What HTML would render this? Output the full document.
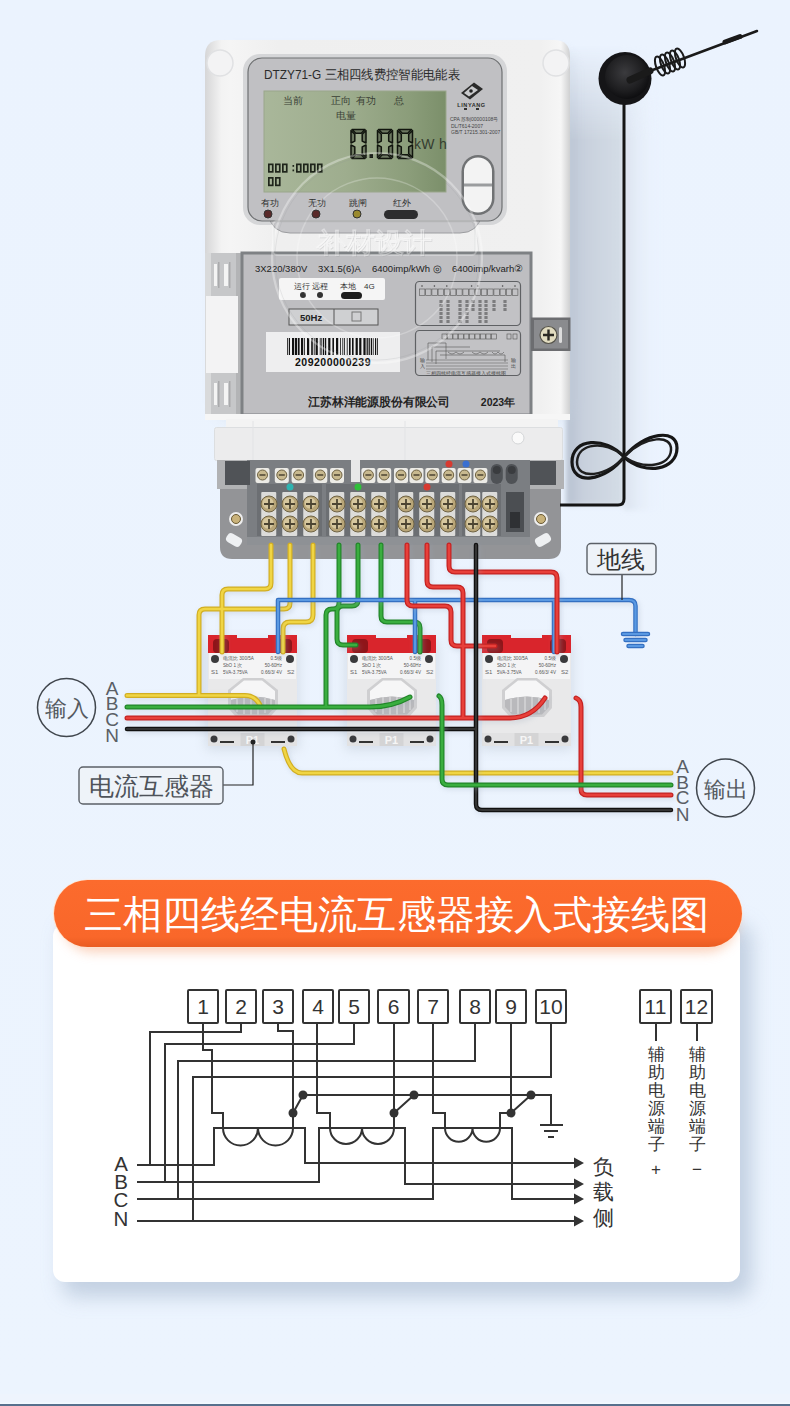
<!DOCTYPE html>
<html><head><meta charset="utf-8">
<style>
html,body{margin:0;padding:0;}
body{width:790px;height:1406px;overflow:hidden;background:#eaf2fc;font-family:"Liberation Sans",sans-serif;position:relative;}
svg{position:absolute;left:0;top:0;}
text{font-family:"Liberation Sans",sans-serif;}
</style></head><body>
<svg width="790" height="1406" viewBox="0 0 790 1406">
<defs>
  <linearGradient id="bg" x1="0" y1="0" x2="0" y2="1">
    <stop offset="0" stop-color="#ebf3fe"/>
    <stop offset="1" stop-color="#ecf4fe"/>
  </linearGradient>
  <radialGradient id="antb" cx="0.45" cy="0.4" r="0.6">
    <stop offset="0" stop-color="#3b3b3e"/>
    <stop offset="0.7" stop-color="#1e1e20"/>
    <stop offset="1" stop-color="#0e0e10"/>
  </radialGradient>
  <linearGradient id="lcd" x1="0" y1="0" x2="1" y2="0">
    <stop offset="0" stop-color="#a9b79a"/>
    <stop offset="0.45" stop-color="#9ead8e"/>
    <stop offset="0.8" stop-color="#8b9d7a"/>
    <stop offset="1" stop-color="#7b8f6a"/>
  </linearGradient>
  <linearGradient id="body" x1="0" y1="0" x2="1" y2="0">
    <stop offset="0" stop-color="#d6d6d7"/>
    <stop offset="0.045" stop-color="#f3f3f3"/>
    <stop offset="0.07" stop-color="#f5f5f5"/>
    <stop offset="0.2" stop-color="#efefef"/>
    <stop offset="0.92" stop-color="#f0f0f0"/>
    <stop offset="0.975" stop-color="#f6f6f6"/>
    <stop offset="1" stop-color="#cfd0d1"/>
  </linearGradient>
  <filter id="sh" x="-20%" y="-20%" width="140%" height="140%">
    <feGaussianBlur stdDeviation="6"/>
  </filter>
<filter id="blur2" x="-30%" y="-10%" width="160%" height="120%"><feGaussianBlur stdDeviation="2.5"/></filter>
<linearGradient id="band2" x1="0" y1="0" x2="1" y2="0"><stop offset="0" stop-color="#dae2ed"/><stop offset="1" stop-color="#ebf3fe" stop-opacity="0"/></linearGradient>
<linearGradient id="bmg" x1="0" x2="0" gradientUnits="userSpaceOnUse" y1="45" y2="140"><stop offset="0" stop-color="#000"/><stop offset="1" stop-color="#fff"/></linearGradient>
<mask id="bandmask" maskUnits="userSpaceOnUse" x="0" y="0" width="790" height="1406"><rect x="0" y="0" width="790" height="1406" fill="url(#bmg)"/></mask>
<filter id="sh10" x="-20%" y="-20%" width="140%" height="140%"><feGaussianBlur stdDeviation="10"/></filter>
<linearGradient id="ban" x1="0" y1="0" x2="0" y2="1"><stop offset="0" stop-color="#fc6b2d"/><stop offset="0.85" stop-color="#f9672a"/><stop offset="1" stop-color="#e95c22"/></linearGradient>
</defs>
<rect x="0" y="0" width="790" height="1406" fill="url(#bg)"/>

<linearGradient id="band" x1="0" y1="0" x2="1" y2="0">
    <stop offset="0" stop-color="#b7c1d0"/>
    <stop offset="0.3" stop-color="#c8d0dd"/>
    <stop offset="1" stop-color="#d4dde6"/>
  </linearGradient>
<g mask="url(#bandmask)"><path d="M566 40H624V505H566Z" fill="url(#band)" filter="url(#blur2)"/>
<path d="M624 40H660V510H624Z" fill="url(#band2)" filter="url(#blur2)"/></g>
<!-- METER -->
<g id="meter">
  <!-- soft shadow -->
  <rect x="214" y="50" width="360" height="372" rx="16" fill="#c8d3e0" opacity="0.3" filter="url(#sh)"/>
  <!-- body -->
  <path d="M205 56Q205 40 221 40H554Q570 40 570 56V418H205Z" fill="url(#body)"/>
  <circle cx="220" cy="63" r="13" fill="#f3f3f4" stroke="#e0e1e3" stroke-width="1.5"/>
  <circle cx="556" cy="63" r="13" fill="#f3f3f4" stroke="#e0e1e3" stroke-width="1.5"/>
  <!-- top display panel -->
  <rect x="243" y="54" width="264" height="171" rx="17" fill="#d5d6d8"/>
  <path d="M268 214H482Q478 233 460 233H290Q272 233 268 214Z" fill="#c6c6c9" stroke="#9c9da0" stroke-width="1"/>
  <rect x="248" y="58" width="254" height="163" rx="14" fill="#c0c0c3" stroke="#6e7072" stroke-width="1.2"/>
  <text x="264" y="79" font-size="12.5" fill="#2b2b2b" textLength="196" lengthAdjust="spacingAndGlyphs">DTZY71-G 三相四线费控智能电能表</text>
  <rect x="264" y="91" width="182" height="101" fill="url(#lcd)" stroke="#9aa68c" stroke-width="1"/>
  <g font-size="9.5" fill="#3a3f35">
    <text x="283" y="104">当前</text><text x="331" y="104">正向</text><text x="356" y="104">有功</text><text x="394" y="104">总</text>
    <text x="336" y="119">电量</text>
  </g>
  <g fill="#6c7860" stroke="#11150e" stroke-width="1.5" stroke-linejoin="round"><path d="M352 129.5H365L361.2 133.3H355.8Z"/><path d="M352 158.5H365L361.2 154.7H355.8Z"/><path d="M351 130.5V143.0L354.8 141.1V134.3Z"/><path d="M351 157.5V145.0L354.8 146.9V153.7Z"/><path d="M366 130.5V143.0L362.2 141.1V134.3Z"/><path d="M366 157.5V145.0L362.2 146.9V153.7Z"/><path d="M378.5 129.5H391.5L387.7 133.3H382.3Z"/><path d="M378.5 158.5H391.5L387.7 154.7H382.3Z"/><path d="M377.5 130.5V143.0L381.3 141.1V134.3Z"/><path d="M377.5 157.5V145.0L381.3 146.9V153.7Z"/><path d="M392.5 130.5V143.0L388.7 141.1V134.3Z"/><path d="M392.5 157.5V145.0L388.7 146.9V153.7Z"/><path d="M398.5 129.5H411.5L407.7 133.3H402.3Z"/><path d="M398.5 158.5H411.5L407.7 154.7H402.3Z"/><path d="M397.5 130.5V143.0L401.3 141.1V134.3Z"/><path d="M397.5 157.5V145.0L401.3 146.9V153.7Z"/><path d="M412.5 130.5V143.0L408.7 141.1V134.3Z"/><path d="M412.5 157.5V145.0L408.7 146.9V153.7Z"/></g><rect x="369.5" y="154" width="3.5" height="4" fill="#161b13"/>
  <text x="414" y="148.5" font-size="14" fill="#353d30" letter-spacing="0.3">kW h</text>
  <g fill="none" stroke="#1f251b" stroke-width="1.7"><rect x="268.85" y="164.35" width="3.8999999999999995" height="7.499999999999999"/><rect x="275.85" y="164.35" width="3.8999999999999995" height="7.499999999999999"/><rect x="282.85" y="164.35" width="3.8999999999999995" height="7.499999999999999"/><rect x="296.85" y="164.35" width="3.8999999999999995" height="7.499999999999999"/><rect x="303.85" y="164.35" width="3.8999999999999995" height="7.499999999999999"/><rect x="310.85" y="164.35" width="3.8999999999999995" height="7.499999999999999"/><rect x="317.85" y="164.35" width="3.8999999999999995" height="7.499999999999999"/><rect x="268.85" y="177.85" width="3.8999999999999995" height="7.499999999999999"/><rect x="275.85" y="177.85" width="3.8999999999999995" height="7.499999999999999"/></g><g fill="#1f251b"><rect x="292.5" y="165" width="1.6" height="1.8"/><rect x="292.5" y="169.5" width="1.6" height="1.8"/></g>
  <!-- logo -->
  <path d="M474 82.5L483 89L470 99.5L461 93Z" fill="#2a2a2a"/><path d="M472 86L478 90L469 96.5L464 93Z" fill="#c9cacc"/><circle cx="471" cy="91" r="1.8" fill="#222"/>
  <text x="471.5" y="106.5" font-size="5.5" font-weight="bold" fill="#2a2a2a" text-anchor="middle" letter-spacing="0.6">LINYANG</text><path d="M464 109H467M476 109H479" stroke="#333" stroke-width="2"/>
  <g font-size="5" fill="#444">
    <text x="450" y="121">CPA 苏制00000108号</text>
    <text x="451" y="128">DL/T614-2007</text>
    <text x="451" y="134">GB/T 17215.301-2007</text>
  </g>
  <!-- LEDs -->
  <g font-size="8.5" fill="#2e2e2e">
    <text x="261" y="206">有功</text><text x="308" y="206">无功</text><text x="349" y="206">跳闸</text><text x="393" y="206">红外</text>
  </g>
  <circle cx="268" cy="214" r="4" fill="#5a2a2a" stroke="#333" stroke-width="1"/>
  <circle cx="316" cy="214" r="4" fill="#5a2a2a" stroke="#333" stroke-width="1"/>
  <circle cx="357" cy="214" r="4" fill="#9a8a30" stroke="#333" stroke-width="1"/>
  <rect x="384" y="210" width="34" height="9" rx="4.5" fill="#2d2d2f"/>
  <!-- button -->
  <rect x="461.5" y="155" width="33" height="60" rx="16.5" fill="#707274"/>
  <rect x="464" y="157.5" width="28" height="55" rx="14" fill="#f3f3f3"/>
  <path d="M464 185H492" stroke="#9a9c9e" stroke-width="3"/>
  <!-- lower (label) section -->
  <rect x="205" y="253" width="37" height="162" fill="#c6c7c9"/><rect x="205" y="253" width="6" height="162" fill="#d9dadb"/><rect x="236" y="253" width="6" height="162" fill="#b3b4b6"/>
  <rect x="206" y="296" width="32" height="77" fill="#f3f3f4"/>
  <g fill="#f4f4f4"><rect x="214" y="264" width="3" height="22"/><rect x="224" y="264" width="4" height="22"/><rect x="214" y="383" width="3" height="22"/><rect x="224" y="383" width="4" height="22"/></g><g fill="#a9aaac"><rect x="218" y="262" width="1.5" height="26"/><rect x="229" y="262" width="1.5" height="26"/><rect x="218" y="381" width="1.5" height="26"/><rect x="229" y="381" width="1.5" height="26"/></g>
  <rect x="242" y="253" width="289" height="162" fill="#bebec1" stroke="#7e8184" stroke-width="3"/>
  <rect x="531" y="317.5" width="39.5" height="33.5" fill="#6c6d70"/><rect x="534" y="320" width="34" height="28.5" fill="#8a8b8e"/>
  <circle cx="548.5" cy="335" r="8.5" fill="#e2dcc0" stroke="#55534a" stroke-width="1.2"/>
  <path d="M543 335H554M548.5 329.5V340.5" stroke="#2a2822" stroke-width="2.4"/><rect x="559" y="327" width="3" height="16" rx="1.5" fill="#dcdcdc"/>
  <g font-size="9.5" fill="#222">
    <text x="255" y="272">3X220/380V</text><text x="318" y="272">3X1.5(6)A</text>
    <text x="372" y="272">6400imp/kWh ◎</text><text x="452" y="272">6400imp/kvarh②</text>
  </g>
  <rect x="279" y="278" width="106" height="22" rx="2" fill="#f5f5f5"/>
  <g font-size="8" fill="#333"><text x="294" y="289">运行 远程</text><text x="340" y="289">本地</text><text x="364" y="289">4G</text></g>
  <circle cx="303" cy="295" r="3" fill="#333"/><circle cx="320" cy="295" r="3" fill="#333"/>
  <rect x="341" y="292" width="21" height="7" rx="3.5" fill="#1e1e1e"/>
  <rect x="289" y="309" width="89" height="16" fill="#cfd0d2" stroke="#555" stroke-width="1"/>
  <path d="M334 309V325" stroke="#555" stroke-width="1"/>
  <text x="300" y="321" font-size="9.5" font-weight="bold" fill="#222">50Hz</text>
  <rect x="352" y="312" width="9" height="9" fill="none" stroke="#777" stroke-width="1"/>
  <rect x="266" y="332" width="134" height="40" fill="#eeeeef"/>
  <g id="barcode" fill="#111"><rect x="287.0" y="338" width="0.8" height="17"/><rect x="288.8" y="338" width="1.2" height="17"/><rect x="292.0" y="338" width="2.2" height="17"/><rect x="295.0" y="338" width="2.2" height="17"/><rect x="298.0" y="338" width="1.6" height="17"/><rect x="301.0" y="338" width="2.2" height="17"/><rect x="304.2" y="338" width="0.8" height="17"/><rect x="307.0" y="338" width="2.2" height="17"/><rect x="311.2" y="338" width="1.6" height="17"/><rect x="313.8" y="338" width="0.8" height="17"/><rect x="315.6" y="338" width="2.2" height="17"/><rect x="319.8" y="338" width="0.8" height="17"/><rect x="321.4" y="338" width="0.8" height="17"/><rect x="323.0" y="338" width="1.2" height="17"/><rect x="325.0" y="338" width="1.2" height="17"/><rect x="328.2" y="338" width="2.2" height="17"/><rect x="332.4" y="338" width="1.6" height="17"/><rect x="336.0" y="338" width="2.2" height="17"/><rect x="340.2" y="338" width="0.8" height="17"/><rect x="342.4" y="338" width="0.8" height="17"/><rect x="344.0" y="338" width="0.8" height="17"/><rect x="346.8" y="338" width="0.8" height="17"/><rect x="349.0" y="338" width="1.6" height="17"/><rect x="352.0" y="338" width="1.6" height="17"/><rect x="355.6" y="338" width="2.2" height="17"/><rect x="359.2" y="338" width="2.2" height="17"/><rect x="363.4" y="338" width="2.2" height="17"/><rect x="366.6" y="338" width="1.2" height="17"/><rect x="368.6" y="338" width="1.2" height="17"/><rect x="370.8" y="338" width="1.2" height="17"/><rect x="372.8" y="338" width="0.8" height="17"/><rect x="375.0" y="338" width="1.2" height="17"/><rect x="377.0" y="338" width="0.8" height="17"/></g>
  <text x="333" y="366" font-size="10.5" font-weight="bold" fill="#111" text-anchor="middle" letter-spacing="0.5">209200000239</text>
  <rect x="415.5" y="281.5" width="105" height="44" rx="4" fill="#c2c2c5" stroke="#5f6164" stroke-width="1.2"/>
  <rect x="415.5" y="330.5" width="105" height="45" rx="4" fill="#c2c2c5" stroke="#5f6164" stroke-width="1.2"/>
  <g fill="none" stroke="#555" stroke-width="0.6"><rect x="419.5" y="289" width="5.4" height="6.5"/><rect x="425.7" y="289" width="5.4" height="6.5"/><rect x="431.9" y="289" width="5.4" height="6.5"/><rect x="438.1" y="289" width="5.4" height="6.5"/><rect x="444.3" y="289" width="5.4" height="6.5"/><rect x="450.5" y="289" width="5.4" height="6.5"/><rect x="456.7" y="289" width="5.4" height="6.5"/><rect x="462.9" y="289" width="5.4" height="6.5"/><rect x="469.1" y="289" width="5.4" height="6.5"/><rect x="475.3" y="289" width="5.4" height="6.5"/><rect x="481.5" y="289" width="5.4" height="6.5"/><rect x="487.7" y="289" width="5.4" height="6.5"/><rect x="493.9" y="289" width="5.4" height="6.5"/><rect x="500.1" y="289" width="5.4" height="6.5"/><rect x="506.3" y="289" width="5.4" height="6.5"/><rect x="512.5" y="289" width="5.4" height="6.5"/></g><g fill="#444"><circle cx="422.0" cy="286" r="0.8"/><circle cx="434.4" cy="286" r="0.8"/><circle cx="446.8" cy="286" r="0.8"/><circle cx="471.6" cy="286" r="0.8"/><circle cx="477.8" cy="286" r="0.8"/><circle cx="502.6" cy="286" r="0.8"/><circle cx="515.0" cy="286" r="0.8"/><rect x="439.4" y="300" width="3.2" height="3" opacity="0.55"/><rect x="439.4" y="304" width="3.2" height="3" opacity="0.55"/><rect x="439.4" y="308" width="3.2" height="3" opacity="0.55"/><rect x="439.4" y="312" width="3.2" height="3" opacity="0.55"/><rect x="439.4" y="316" width="3.2" height="3" opacity="0.55"/><rect x="439.4" y="320" width="3.2" height="3" opacity="0.55"/><rect x="446.4" y="300" width="3.2" height="3" opacity="0.55"/><rect x="446.4" y="304" width="3.2" height="3" opacity="0.55"/><rect x="446.4" y="308" width="3.2" height="3" opacity="0.55"/><rect x="446.4" y="312" width="3.2" height="3" opacity="0.55"/><rect x="446.4" y="316" width="3.2" height="3" opacity="0.55"/><rect x="446.4" y="320" width="3.2" height="3" opacity="0.55"/><rect x="458.4" y="300" width="3.2" height="3" opacity="0.55"/><rect x="458.4" y="304" width="3.2" height="3" opacity="0.55"/><rect x="458.4" y="308" width="3.2" height="3" opacity="0.55"/><rect x="458.4" y="312" width="3.2" height="3" opacity="0.55"/><rect x="458.4" y="316" width="3.2" height="3" opacity="0.55"/><rect x="458.4" y="320" width="3.2" height="3" opacity="0.55"/><rect x="465.4" y="300" width="3.2" height="3" opacity="0.55"/><rect x="465.4" y="304" width="3.2" height="3" opacity="0.55"/><rect x="465.4" y="308" width="3.2" height="3" opacity="0.55"/><rect x="465.4" y="312" width="3.2" height="3" opacity="0.55"/><rect x="465.4" y="316" width="3.2" height="3" opacity="0.55"/><rect x="465.4" y="320" width="3.2" height="3" opacity="0.55"/><rect x="471.4" y="300" width="3.2" height="3" opacity="0.55"/><rect x="471.4" y="304" width="3.2" height="3" opacity="0.55"/><rect x="471.4" y="308" width="3.2" height="3" opacity="0.55"/><rect x="478.4" y="300" width="3.2" height="3" opacity="0.55"/><rect x="478.4" y="304" width="3.2" height="3" opacity="0.55"/><rect x="478.4" y="308" width="3.2" height="3" opacity="0.55"/><rect x="478.4" y="312" width="3.2" height="3" opacity="0.55"/><rect x="478.4" y="316" width="3.2" height="3" opacity="0.55"/><rect x="478.4" y="320" width="3.2" height="3" opacity="0.55"/><rect x="484.4" y="300" width="3.2" height="3" opacity="0.55"/><rect x="484.4" y="304" width="3.2" height="3" opacity="0.55"/><rect x="484.4" y="308" width="3.2" height="3" opacity="0.55"/><rect x="484.4" y="312" width="3.2" height="3" opacity="0.55"/><rect x="484.4" y="316" width="3.2" height="3" opacity="0.55"/><rect x="484.4" y="320" width="3.2" height="3" opacity="0.55"/><rect x="492.4" y="300" width="3.2" height="3" opacity="0.55"/><rect x="492.4" y="304" width="3.2" height="3" opacity="0.55"/><rect x="492.4" y="308" width="3.2" height="3" opacity="0.55"/><rect x="503.4" y="300" width="3.2" height="3" opacity="0.55"/><rect x="503.4" y="304" width="3.2" height="3" opacity="0.55"/><rect x="503.4" y="308" width="3.2" height="3" opacity="0.55"/></g><g fill="none" stroke="#555" stroke-width="0.6"><rect x="442.0" y="334" width="4.8" height="5"/><rect x="447.5" y="334" width="4.8" height="5"/><rect x="453.0" y="334" width="4.8" height="5"/><rect x="458.5" y="334" width="4.8" height="5"/><rect x="464.0" y="334" width="4.8" height="5"/><rect x="469.5" y="334" width="4.8" height="5"/><rect x="475.0" y="334" width="4.8" height="5"/><rect x="480.5" y="334" width="4.8" height="5"/><rect x="486.0" y="334" width="4.8" height="5"/><rect x="491.5" y="334" width="4.8" height="5"/><rect x="507" y="334" width="4" height="5"/><rect x="513" y="334" width="4" height="5"/><path d="M428 343H446V359M432 347H470M436 351H500M428 343V360M432 347V362M436 351V364M440 355H505V362"/><path d="M448 352q4 4 8 0q4 4 8 0M472 352q4 4 8 0q4 4 8 0M492 352q3 4 6 0q3 4 6 0"/><path d="M426 360H508M426 363H508M426 366H508M426 369H508" stroke-width="0.5"/></g><text x="466" y="374.5" font-size="4.6" fill="#444" text-anchor="middle">三相四线经电流互感器接入式接线图</text><text x="420" y="362" font-size="4.5" fill="#333">输</text><text x="420" y="368" font-size="4.5" fill="#333">入</text><text x="511" y="362" font-size="4.5" fill="#333">输</text><text x="511" y="368" font-size="4.5" fill="#333">出</text>
  <text x="308" y="406" font-size="11.5" font-weight="bold" fill="#222" textLength="142" lengthAdjust="spacingAndGlyphs">江苏林洋能源股份有限公司</text>
  <text x="498" y="406" font-size="10.5" font-weight="bold" fill="#222" text-anchor="middle">2023年</text>
  <!-- terminal cover -->
  <rect x="205" y="414" width="365" height="6" fill="#f6f6f6"/><rect x="226" y="419" width="332" height="10" fill="#f3f3f3"/><rect x="214.5" y="427.5" width="348" height="33" rx="2" fill="#ececed" stroke="#dcdee0" stroke-width="1"/>
  <path d="M253 421V461M405 421V461" stroke="#e2e3e5" stroke-width="1"/>
  <circle cx="518" cy="438" r="6" fill="#fafafa" stroke="#d4d6d8" stroke-width="1"/>
  <!-- terminal block -->
  <path d="M220 460H561V547Q561 559 549 559H232Q220 559 220 547Z" fill="#939497"/><rect x="217" y="460" width="347" height="29" fill="#b1b2b4"/>
  <rect x="247" y="460" width="283" height="85" fill="#7b7e82"/>
  <rect x="225" y="461" width="25" height="24" fill="#505357"/>
  <rect x="530" y="461" width="26" height="24" fill="#505357"/>
  <circle cx="236" cy="519" r="7" fill="#eeeeee"/><circle cx="236" cy="519" r="4.5" fill="#c9b27a" stroke="#6a5a35" stroke-width="1"/>
  <circle cx="541" cy="519" r="7" fill="#eeeeee"/><circle cx="541" cy="519" r="4.5" fill="#c9b27a" stroke="#6a5a35" stroke-width="1"/>
  <rect x="226" y="535" width="16" height="10" rx="4" transform="rotate(30 234 540)" fill="#eef0f2"/>
  <rect x="535" y="535" width="16" height="10" rx="4" transform="rotate(-30 543 540)" fill="#eef0f2"/>
  <rect x="247" y="537" width="283" height="8" fill="#8e9195"/>
  <rect x="351" y="460" width="9" height="22" fill="#e8e8e8"/>
  <g id="screws"><rect x="257" y="484" width="65" height="52" fill="#6c6f73"/><rect x="326" y="484" width="64" height="52" fill="#6c6f73"/><rect x="395" y="484" width="64" height="52" fill="#6c6f73"/><rect x="462" y="484" width="39" height="52" fill="#6c6f73"/><rect x="261.25" y="492" width="15" height="44" rx="1" fill="#dcdcda"/><circle cx="269" cy="504" r="8" fill="#b8a577" stroke="#6f6344" stroke-width="1"/><circle cx="268" cy="503" r="5.5" fill="#d6c79e"/><path d="M264 504H274M269 499V509" stroke="#4d4532" stroke-width="1.8"/><circle cx="269" cy="524" r="8" fill="#b8a577" stroke="#6f6344" stroke-width="1"/><circle cx="268" cy="523" r="5.5" fill="#d6c79e"/><path d="M264 524H274M269 519V529" stroke="#4d4532" stroke-width="1.8"/><rect x="282.25" y="492" width="15" height="44" rx="1" fill="#dcdcda"/><circle cx="290" cy="504" r="8" fill="#b8a577" stroke="#6f6344" stroke-width="1"/><circle cx="289" cy="503" r="5.5" fill="#d6c79e"/><path d="M285 504H295M290 499V509" stroke="#4d4532" stroke-width="1.8"/><circle cx="290" cy="524" r="8" fill="#b8a577" stroke="#6f6344" stroke-width="1"/><circle cx="289" cy="523" r="5.5" fill="#d6c79e"/><path d="M285 524H295M290 519V529" stroke="#4d4532" stroke-width="1.8"/><rect x="303.25" y="492" width="15" height="44" rx="1" fill="#dcdcda"/><circle cx="311" cy="504" r="8" fill="#b8a577" stroke="#6f6344" stroke-width="1"/><circle cx="310" cy="503" r="5.5" fill="#d6c79e"/><path d="M306 504H316M311 499V509" stroke="#4d4532" stroke-width="1.8"/><circle cx="311" cy="524" r="8" fill="#b8a577" stroke="#6f6344" stroke-width="1"/><circle cx="310" cy="523" r="5.5" fill="#d6c79e"/><path d="M306 524H316M311 519V529" stroke="#4d4532" stroke-width="1.8"/><rect x="329.25" y="492" width="15" height="44" rx="1" fill="#dcdcda"/><circle cx="337" cy="504" r="8" fill="#b8a577" stroke="#6f6344" stroke-width="1"/><circle cx="336" cy="503" r="5.5" fill="#d6c79e"/><path d="M332 504H342M337 499V509" stroke="#4d4532" stroke-width="1.8"/><circle cx="337" cy="524" r="8" fill="#b8a577" stroke="#6f6344" stroke-width="1"/><circle cx="336" cy="523" r="5.5" fill="#d6c79e"/><path d="M332 524H342M337 519V529" stroke="#4d4532" stroke-width="1.8"/><rect x="350.25" y="492" width="15" height="44" rx="1" fill="#dcdcda"/><circle cx="358" cy="504" r="8" fill="#b8a577" stroke="#6f6344" stroke-width="1"/><circle cx="357" cy="503" r="5.5" fill="#d6c79e"/><path d="M353 504H363M358 499V509" stroke="#4d4532" stroke-width="1.8"/><circle cx="358" cy="524" r="8" fill="#b8a577" stroke="#6f6344" stroke-width="1"/><circle cx="357" cy="523" r="5.5" fill="#d6c79e"/><path d="M353 524H363M358 519V529" stroke="#4d4532" stroke-width="1.8"/><rect x="371.25" y="492" width="15" height="44" rx="1" fill="#dcdcda"/><circle cx="379" cy="504" r="8" fill="#b8a577" stroke="#6f6344" stroke-width="1"/><circle cx="378" cy="503" r="5.5" fill="#d6c79e"/><path d="M374 504H384M379 499V509" stroke="#4d4532" stroke-width="1.8"/><circle cx="379" cy="524" r="8" fill="#b8a577" stroke="#6f6344" stroke-width="1"/><circle cx="378" cy="523" r="5.5" fill="#d6c79e"/><path d="M374 524H384M379 519V529" stroke="#4d4532" stroke-width="1.8"/><rect x="398.25" y="492" width="15" height="44" rx="1" fill="#dcdcda"/><circle cx="406" cy="504" r="8" fill="#b8a577" stroke="#6f6344" stroke-width="1"/><circle cx="405" cy="503" r="5.5" fill="#d6c79e"/><path d="M401 504H411M406 499V509" stroke="#4d4532" stroke-width="1.8"/><circle cx="406" cy="524" r="8" fill="#b8a577" stroke="#6f6344" stroke-width="1"/><circle cx="405" cy="523" r="5.5" fill="#d6c79e"/><path d="M401 524H411M406 519V529" stroke="#4d4532" stroke-width="1.8"/><rect x="419.25" y="492" width="15" height="44" rx="1" fill="#dcdcda"/><circle cx="427" cy="504" r="8" fill="#b8a577" stroke="#6f6344" stroke-width="1"/><circle cx="426" cy="503" r="5.5" fill="#d6c79e"/><path d="M422 504H432M427 499V509" stroke="#4d4532" stroke-width="1.8"/><circle cx="427" cy="524" r="8" fill="#b8a577" stroke="#6f6344" stroke-width="1"/><circle cx="426" cy="523" r="5.5" fill="#d6c79e"/><path d="M422 524H432M427 519V529" stroke="#4d4532" stroke-width="1.8"/><rect x="440.25" y="492" width="15" height="44" rx="1" fill="#dcdcda"/><circle cx="448" cy="504" r="8" fill="#b8a577" stroke="#6f6344" stroke-width="1"/><circle cx="447" cy="503" r="5.5" fill="#d6c79e"/><path d="M443 504H453M448 499V509" stroke="#4d4532" stroke-width="1.8"/><circle cx="448" cy="524" r="8" fill="#b8a577" stroke="#6f6344" stroke-width="1"/><circle cx="447" cy="523" r="5.5" fill="#d6c79e"/><path d="M443 524H453M448 519V529" stroke="#4d4532" stroke-width="1.8"/><rect x="465.25" y="492" width="15" height="44" rx="1" fill="#dcdcda"/><circle cx="473" cy="504" r="8" fill="#b8a577" stroke="#6f6344" stroke-width="1"/><circle cx="472" cy="503" r="5.5" fill="#d6c79e"/><path d="M468 504H478M473 499V509" stroke="#4d4532" stroke-width="1.8"/><circle cx="473" cy="524" r="8" fill="#b8a577" stroke="#6f6344" stroke-width="1"/><circle cx="472" cy="523" r="5.5" fill="#d6c79e"/><path d="M468 524H478M473 519V529" stroke="#4d4532" stroke-width="1.8"/><rect x="482.25" y="492" width="15" height="44" rx="1" fill="#dcdcda"/><circle cx="490" cy="504" r="8" fill="#b8a577" stroke="#6f6344" stroke-width="1"/><circle cx="489" cy="503" r="5.5" fill="#d6c79e"/><path d="M485 504H495M490 499V509" stroke="#4d4532" stroke-width="1.8"/><circle cx="490" cy="524" r="8" fill="#b8a577" stroke="#6f6344" stroke-width="1"/><circle cx="489" cy="523" r="5.5" fill="#d6c79e"/><path d="M485 524H495M490 519V529" stroke="#4d4532" stroke-width="1.8"/><rect x="255.5" y="468" width="14" height="15" rx="2" fill="#ecebe6"/><circle cx="262.5" cy="475" r="5" fill="#c8b98f" stroke="#6f6344" stroke-width="1"/><path d="M259.5 475H265.5" stroke="#4d4532" stroke-width="1.5"/><rect x="274.8" y="468" width="14" height="15" rx="2" fill="#ecebe6"/><circle cx="281.8" cy="475" r="5" fill="#c8b98f" stroke="#6f6344" stroke-width="1"/><path d="M278.8 475H284.8" stroke="#4d4532" stroke-width="1.5"/><rect x="291.6" y="468" width="14" height="15" rx="2" fill="#ecebe6"/><circle cx="298.6" cy="475" r="5" fill="#c8b98f" stroke="#6f6344" stroke-width="1"/><path d="M295.6 475H301.6" stroke="#4d4532" stroke-width="1.5"/><rect x="313.3" y="468" width="14" height="15" rx="2" fill="#ecebe6"/><circle cx="320.3" cy="475" r="5" fill="#c8b98f" stroke="#6f6344" stroke-width="1"/><path d="M317.3 475H323.3" stroke="#4d4532" stroke-width="1.5"/><rect x="330" y="468" width="14" height="15" rx="2" fill="#ecebe6"/><circle cx="337" cy="475" r="5" fill="#c8b98f" stroke="#6f6344" stroke-width="1"/><path d="M334 475H340" stroke="#4d4532" stroke-width="1.5"/><rect x="361.4" y="468" width="14" height="15" rx="2" fill="#ecebe6"/><circle cx="368.4" cy="475" r="5" fill="#c8b98f" stroke="#6f6344" stroke-width="1"/><path d="M365.4 475H371.4" stroke="#4d4532" stroke-width="1.5"/><rect x="377.2" y="468" width="14" height="15" rx="2" fill="#ecebe6"/><circle cx="384.2" cy="475" r="5" fill="#c8b98f" stroke="#6f6344" stroke-width="1"/><path d="M381.2 475H387.2" stroke="#4d4532" stroke-width="1.5"/><rect x="394" y="468" width="14" height="15" rx="2" fill="#ecebe6"/><circle cx="401" cy="475" r="5" fill="#c8b98f" stroke="#6f6344" stroke-width="1"/><path d="M398 475H404" stroke="#4d4532" stroke-width="1.5"/><rect x="409.5" y="468" width="14" height="15" rx="2" fill="#ecebe6"/><circle cx="416.5" cy="475" r="5" fill="#c8b98f" stroke="#6f6344" stroke-width="1"/><path d="M413.5 475H419.5" stroke="#4d4532" stroke-width="1.5"/><rect x="425.3" y="468" width="14" height="15" rx="2" fill="#ecebe6"/><circle cx="432.3" cy="475" r="5" fill="#c8b98f" stroke="#6f6344" stroke-width="1"/><path d="M429.3 475H435.3" stroke="#4d4532" stroke-width="1.5"/><rect x="441.7" y="468" width="14" height="15" rx="2" fill="#ecebe6"/><circle cx="448.7" cy="475" r="5" fill="#c8b98f" stroke="#6f6344" stroke-width="1"/><path d="M445.7 475H451.7" stroke="#4d4532" stroke-width="1.5"/><rect x="457.5" y="468" width="14" height="15" rx="2" fill="#ecebe6"/><circle cx="464.5" cy="475" r="5" fill="#c8b98f" stroke="#6f6344" stroke-width="1"/><path d="M461.5 475H467.5" stroke="#4d4532" stroke-width="1.5"/><rect x="473.4" y="468" width="14" height="15" rx="2" fill="#ecebe6"/><circle cx="480.4" cy="475" r="5" fill="#c8b98f" stroke="#6f6344" stroke-width="1"/><path d="M477.4 475H483.4" stroke="#4d4532" stroke-width="1.5"/><rect x="490.8" y="464" width="12" height="20" rx="6" fill="#4f5256"/><circle cx="496.8" cy="470" r="4" fill="#3a3c3f"/><rect x="505.7" y="464" width="12" height="20" rx="6" fill="#4f5256"/><circle cx="511.7" cy="470" r="4" fill="#3a3c3f"/><rect x="506" y="492" width="18" height="40" fill="#4b4e52"/><rect x="510" y="512" width="10" height="16" fill="#2f3134"/><circle cx="290" cy="487" r="3.5" fill="#2fb3b0"/><circle cx="358" cy="487" r="3.5" fill="#2fbf3a"/><circle cx="427" cy="487" r="3.5" fill="#d83a30"/><circle cx="449" cy="464" r="3.5" fill="#d83a30"/><circle cx="466" cy="464" r="3.5" fill="#3a6fd0"/></g>
</g>

<g id="stamp" fill="none" opacity="0.55">
  <circle cx="377" cy="258" r="105" stroke="#ffffff" stroke-width="2.2" opacity="0.6"/>
  <circle cx="377" cy="258" r="102" stroke="#8a8d90" stroke-width="0.8" opacity="0.35"/>
  <circle cx="377" cy="258" r="80" stroke="#ffffff" stroke-width="1.5" opacity="0.45"/>
  <rect x="273" y="221" width="203" height="34" rx="4" stroke="#ffffff" stroke-width="2" opacity="0.55"/>
  <text x="317" y="252" font-size="27" textLength="115" lengthAdjust="spacingAndGlyphs" stroke="#8f9194" stroke-width="1" opacity="0.45" transform="translate(1 1)">补材设计</text>
  <text x="317" y="252" font-size="27" textLength="115" lengthAdjust="spacingAndGlyphs" stroke="#ffffff" stroke-width="1.4" opacity="0.8">补材设计</text>
  <rect x="274" y="222" width="201" height="32" rx="4" stroke="#8a8d90" stroke-width="0.8" opacity="0.3"/>
</g>
<!-- ANTENNA -->
<g id="antenna">
  <path d="M624 100V499Q624 505 618 505H560" fill="none" stroke="#151515" stroke-width="3"/>
  <path d="M624 457C605 436 572 438 572 462C572 486 605 482 624 457C645 432 677 428 677 448C677 470 645 476 624 457Z" fill="none" stroke="#161616" stroke-width="3.2"/>
  <path d="M622 455C606 441 578 442 577 462C577 480 606 478 626 455C646 436 672 434 671 450C670 466 645 470 626 458" fill="none" stroke="#1e1e1e" stroke-width="2.5"/>
  <circle cx="625" cy="78.5" r="26.5" fill="#151517"/><circle cx="627" cy="77" r="22" fill="url(#antb)"/>
  <path d="M630 80L650 71" stroke="#1a1a1a" stroke-width="7" stroke-linecap="round"/>
  <path d="M650 71L757 31" stroke="#1a1a1a" stroke-width="2.5" stroke-linecap="round"/>
  <path d="M725 42L740 36.5" stroke="#1a1a1a" stroke-width="5" stroke-linecap="round"/>
  <g fill="none" stroke="#1a1a1a" stroke-width="2">
    <ellipse cx="660" cy="66" rx="4" ry="10" transform="rotate(-20 660 66)"/>
    <ellipse cx="665" cy="64" rx="4" ry="10" transform="rotate(-20 665 64)"/>
    <ellipse cx="670" cy="62" rx="4" ry="10" transform="rotate(-20 670 62)"/>
    <ellipse cx="675" cy="60" rx="4" ry="10" transform="rotate(-20 675 60)"/>
    <ellipse cx="680" cy="58" rx="4" ry="10" transform="rotate(-20 680 58)"/>
  </g>
</g>

<!-- WIRES -->
<g id="cts"><rect x="206" y="640" width="93" height="110" rx="3" fill="#b9c3cf" opacity="0.45" filter="url(#sh)"/><path d="M208 635H237V638H268V635H297V653H208Z" fill="#d9252c"/><rect x="213" y="639" width="16" height="14" rx="4" fill="#8f1519"/><rect x="276" y="639" width="16" height="14" rx="4" fill="#8f1519"/><rect x="208" y="653" width="89" height="93" fill="#e9e9ea"/><rect x="209" y="653" width="87" height="26" fill="#f4f4f5"/><circle cx="215" cy="659" r="4" fill="#3a3a3c"/><circle cx="290" cy="659" r="4" fill="#3a3a3c"/><g font-size="4.6" fill="#555"><text x="223" y="660">电流比 300/5A</text><text x="223" y="667">SbO 1 次</text><text x="223" y="674">5VA-3.75VA</text><text x="282" y="660" text-anchor="end">0.5级</text><text x="282" y="667" text-anchor="end">50-60Hz</text><text x="282" y="674" text-anchor="end">0.66/3/ 4V</text></g><g font-size="6" fill="#666"><text x="211" y="674">S1</text><text x="287" y="674">S2</text></g><path d="M243 678H263L278 690V708L270 717H236L228 708V690Z" fill="#cfcfd1"/><path d="M244 680.5H262L275 691V700Q253 693 231 700V691Z" fill="#f6f6f7"/><path d="M231 700Q253 693 275 700V707L268 714.5H238L231 707Z" fill="#b9b9bc"/><path d="M237 699V712M244 697V714M251 696.5V714.5M258 697V714.5M265 698V713M271 699V710" stroke="#dcdcde" stroke-width="1.2"/><rect x="208" y="733" width="89" height="13" fill="#e2e2e3"/><rect x="240.5" y="733" width="24" height="13" fill="#d4d4d5"/><text x="252.5" y="744" font-size="11" font-weight="bold" fill="#f6f6f6" text-anchor="middle">P1</text><circle cx="214" cy="739" r="3.5" fill="#3a3a3c"/><circle cx="291" cy="739" r="3.5" fill="#3a3a3c"/><path d="M220 742H234M271 742H285" stroke="#333" stroke-width="2"/><rect x="345" y="640" width="93" height="110" rx="3" fill="#b9c3cf" opacity="0.45" filter="url(#sh)"/><path d="M347 635H376V638H407V635H436V653H347Z" fill="#d9252c"/><rect x="352" y="639" width="16" height="14" rx="4" fill="#8f1519"/><rect x="415" y="639" width="16" height="14" rx="4" fill="#8f1519"/><rect x="347" y="653" width="89" height="93" fill="#e9e9ea"/><rect x="348" y="653" width="87" height="26" fill="#f4f4f5"/><circle cx="354" cy="659" r="4" fill="#3a3a3c"/><circle cx="429" cy="659" r="4" fill="#3a3a3c"/><g font-size="4.6" fill="#555"><text x="362" y="660">电流比 300/5A</text><text x="362" y="667">SbO 1 次</text><text x="362" y="674">5VA-3.75VA</text><text x="421" y="660" text-anchor="end">0.5级</text><text x="421" y="667" text-anchor="end">50-60Hz</text><text x="421" y="674" text-anchor="end">0.66/3/ 4V</text></g><g font-size="6" fill="#666"><text x="350" y="674">S1</text><text x="426" y="674">S2</text></g><path d="M382 678H402L417 690V708L409 717H375L367 708V690Z" fill="#cfcfd1"/><path d="M383 680.5H401L414 691V700Q392 693 370 700V691Z" fill="#f6f6f7"/><path d="M370 700Q392 693 414 700V707L407 714.5H377L370 707Z" fill="#b9b9bc"/><path d="M376 699V712M383 697V714M390 696.5V714.5M397 697V714.5M404 698V713M410 699V710" stroke="#dcdcde" stroke-width="1.2"/><rect x="347" y="733" width="89" height="13" fill="#e2e2e3"/><rect x="379.5" y="733" width="24" height="13" fill="#d4d4d5"/><text x="391.5" y="744" font-size="11" font-weight="bold" fill="#f6f6f6" text-anchor="middle">P1</text><circle cx="353" cy="739" r="3.5" fill="#3a3a3c"/><circle cx="430" cy="739" r="3.5" fill="#3a3a3c"/><path d="M359 742H373M410 742H424" stroke="#333" stroke-width="2"/><rect x="480" y="640" width="93" height="110" rx="3" fill="#b9c3cf" opacity="0.45" filter="url(#sh)"/><path d="M482 635H511V638H542V635H571V653H482Z" fill="#d9252c"/><rect x="487" y="639" width="16" height="14" rx="4" fill="#8f1519"/><rect x="550" y="639" width="16" height="14" rx="4" fill="#8f1519"/><rect x="482" y="653" width="89" height="93" fill="#e9e9ea"/><rect x="483" y="653" width="87" height="26" fill="#f4f4f5"/><circle cx="489" cy="659" r="4" fill="#3a3a3c"/><circle cx="564" cy="659" r="4" fill="#3a3a3c"/><g font-size="4.6" fill="#555"><text x="497" y="660">电流比 300/5A</text><text x="497" y="667">SbO 1 次</text><text x="497" y="674">5VA-3.75VA</text><text x="556" y="660" text-anchor="end">0.5级</text><text x="556" y="667" text-anchor="end">50-60Hz</text><text x="556" y="674" text-anchor="end">0.66/3/ 4V</text></g><g font-size="6" fill="#666"><text x="485" y="674">S1</text><text x="561" y="674">S2</text></g><path d="M517 678H537L552 690V708L544 717H510L502 708V690Z" fill="#cfcfd1"/><path d="M518 680.5H536L549 691V700Q527 693 505 700V691Z" fill="#f6f6f7"/><path d="M505 700Q527 693 549 700V707L542 714.5H512L505 707Z" fill="#b9b9bc"/><path d="M511 699V712M518 697V714M525 696.5V714.5M532 697V714.5M539 698V713M545 699V710" stroke="#dcdcde" stroke-width="1.2"/><rect x="482" y="733" width="89" height="13" fill="#e2e2e3"/><rect x="514.5" y="733" width="24" height="13" fill="#d4d4d5"/><text x="526.5" y="744" font-size="11" font-weight="bold" fill="#f6f6f6" text-anchor="middle">P1</text><circle cx="488" cy="739" r="3.5" fill="#3a3a3c"/><circle cx="565" cy="739" r="3.5" fill="#3a3a3c"/><path d="M494 742H508M545 742H559" stroke="#333" stroke-width="2"/></g>
<g id="wires" fill="none" stroke-linecap="round" stroke-linejoin="round">
<path d="M271 545V583Q271 589 265 589H228Q222 589 222 595V652 M290 545V603Q290 609 284 609H205Q199 609 199 615V695 M313 545V615Q313 622 306 622H290Q283 622 283 629V652 M127 695.5H245Q255 695.5 260 705 M284 749Q290 773 302 773H671" stroke="#9aa6b8" stroke-width="6" opacity="0.25" transform="translate(1.5 2)" filter="url(#blur2)"/><path d="M271 545V583Q271 589 265 589H228Q222 589 222 595V652 M290 545V603Q290 609 284 609H205Q199 609 199 615V695 M313 545V615Q313 622 306 622H290Q283 622 283 629V652 M127 695.5H245Q255 695.5 260 705 M284 749Q290 773 302 773H671" stroke="#d2ae22" stroke-width="5"/><path d="M271 545V583Q271 589 265 589H228Q222 589 222 595V652 M290 545V603Q290 609 284 609H205Q199 609 199 615V695 M313 545V615Q313 622 306 622H290Q283 622 283 629V652 M127 695.5H245Q255 695.5 260 705 M284 749Q290 773 302 773H671" stroke="#f0d544" stroke-width="2.6"/>
<path d="M339 545V603Q339 609 333 609H332Q326 609 326 615V707 M358 545V600Q358 606 352 606H343Q337 606 337 612V639Q337 645 343 645H356 M381 545V616Q381 622 387 622H414Q420 622 420 628V652 M127 707H370Q392 707 410 697" stroke="#9aa6b8" stroke-width="6" opacity="0.25" transform="translate(1.5 2)" filter="url(#blur2)"/><path d="M339 545V603Q339 609 333 609H332Q326 609 326 615V707 M358 545V600Q358 606 352 606H343Q337 606 337 612V639Q337 645 343 645H356 M381 545V616Q381 622 387 622H414Q420 622 420 628V652 M127 707H370Q392 707 410 697" stroke="#22862a" stroke-width="5"/><path d="M339 545V603Q339 609 333 609H332Q326 609 326 615V707 M358 545V600Q358 606 352 606H343Q337 606 337 612V639Q337 645 343 645H356 M381 545V616Q381 622 387 622H414Q420 622 420 628V652 M127 707H370Q392 707 410 697" stroke="#3aae3f" stroke-width="2.6"/>
<path d="M278 652V600H629Q635.5 600 635.5 606V634 M415 600V652 M554 600V652" stroke="#9aa6b8" stroke-width="5.5" opacity="0.25" transform="translate(1.5 2)" filter="url(#blur2)"/><path d="M278 652V600H629Q635.5 600 635.5 606V634 M415 600V652 M554 600V652" stroke="#3470c2" stroke-width="4.5"/><path d="M278 652V600H629Q635.5 600 635.5 606V634 M415 600V652 M554 600V652" stroke="#5a99e2" stroke-width="2.2"/>
<path d="M623 634H648M625.5 640H645.5M628.5 646H642.5" stroke="#3470c2" stroke-width="4.5"/><path d="M623 634H648M625.5 640H645.5M628.5 646H642.5" stroke="#5a99e2" stroke-width="2"/>
<path d="M407 545V600Q407 606 413 606H445Q451 606 451 612V640Q451 646 457 646H495 M427 545V581Q427 587 433 587H457Q463 587 463 593V718 M449 545V566Q449 572 455 572H551Q557 572 557 578V652 M127 718H510Q532 718 545 698 M576 698Q581 700 581 707V789Q581 795 587 795H671" stroke="#9aa6b8" stroke-width="6" opacity="0.25" transform="translate(1.5 2)" filter="url(#blur2)"/><path d="M407 545V600Q407 606 413 606H445Q451 606 451 612V640Q451 646 457 646H495 M427 545V581Q427 587 433 587H457Q463 587 463 593V718 M449 545V566Q449 572 455 572H551Q557 572 557 578V652 M127 718H510Q532 718 545 698 M576 698Q581 700 581 707V789Q581 795 587 795H671" stroke="#c52222" stroke-width="5"/><path d="M407 545V600Q407 606 413 606H445Q451 606 451 612V640Q451 646 457 646H495 M427 545V581Q427 587 433 587H457Q463 587 463 593V718 M449 545V566Q449 572 455 572H551Q557 572 557 578V652 M127 718H510Q532 718 545 698 M576 698Q581 700 581 707V789Q581 795 587 795H671" stroke="#e8403a" stroke-width="2.6"/>
<path d="M127 729H476 M476 545V804Q476 810 482 810H671" stroke="#9aa6b8" stroke-width="5.5" opacity="0.25" transform="translate(1.5 2)" filter="url(#blur2)"/><path d="M127 729H476 M476 545V804Q476 810 482 810H671" stroke="#111111" stroke-width="4.5"/><path d="M127 729H476 M476 545V804Q476 810 482 810H671" stroke="#343434" stroke-width="2.0"/>
<path d="M439 696Q442 698 442 705V779Q442 785 448 785H671" stroke="#9aa6b8" stroke-width="6" opacity="0.25" transform="translate(1.5 2)" filter="url(#blur2)"/><path d="M439 696Q442 698 442 705V779Q442 785 448 785H671" stroke="#22862a" stroke-width="5"/><path d="M439 696Q442 698 442 705V779Q442 785 448 785H671" stroke="#3aae3f" stroke-width="2.6"/>
</g>

<!-- LABELS -->
<g id="labels">
  <path d="M622 574V600" stroke="#222" stroke-width="1.2"/>
  <rect x="587" y="543.5" width="69" height="31" rx="4" fill="#eef3f9" stroke="#5b6067" stroke-width="1.4"/>
  <text x="621" y="568" font-size="24" fill="#333" text-anchor="middle">地线</text>
  <circle cx="66.5" cy="707.5" r="29" fill="none" stroke="#40464d" stroke-width="1.5"/>
  <text x="66.5" y="715.5" font-size="22" fill="#555a60" text-anchor="middle">输入</text>
  <g font-size="19" fill="#5a5f66" text-anchor="middle">
    <text x="112" y="695">A</text><text x="112" y="710">B</text><text x="112" y="725.5">C</text><text x="112" y="742">N</text>
  </g>
  <path d="M223 785H253V742" fill="none" stroke="#222" stroke-width="1.2"/>
  <circle cx="253" cy="742" r="2.5" fill="#222"/>
  <rect x="79" y="767" width="144" height="37" rx="4" fill="#eef3f9" stroke="#5b6067" stroke-width="1.4"/>
  <text x="151" y="795" font-size="25" fill="#4e535a" text-anchor="middle">电流互感器</text>
  <circle cx="725.5" cy="788" r="29" fill="none" stroke="#40464d" stroke-width="1.5"/>
  <text x="725.5" y="796.5" font-size="22" fill="#555a60" text-anchor="middle">输出</text>
  <g font-size="19" fill="#5a5f66" text-anchor="middle">
    <text x="682.5" y="773">A</text><text x="682.5" y="788.5">B</text><text x="682.5" y="804">C</text><text x="682.5" y="821">N</text>
  </g>
</g>

<!-- BOTTOM CARD -->
<g id="card">
  <rect x="62" y="925" width="690" height="372" rx="14" fill="#bccadd" opacity="0.85" filter="url(#sh10)"/>
  <rect x="53" y="924" width="687" height="358" rx="12" fill="#ffffff"/>
  <rect x="62" y="890" width="675" height="62" rx="31" fill="#f7b08a" opacity="0.6" filter="url(#sh)"/>
  <rect x="53" y="879.5" width="689.5" height="68" rx="34" fill="#ffe3cf"/><rect x="54" y="880" width="688" height="67" rx="33.5" fill="url(#ban)"/>
  <text x="84" y="928" font-size="39" font-weight="300" fill="#ffffff" textLength="625" lengthAdjust="spacingAndGlyphs">三相四线经电流互感器接入式接线图</text>
  <g fill="none" stroke="#333" stroke-width="2">
    <!-- terminal boxes -->
    <rect x="188" y="990" width="30" height="33" rx="1"/>
    <rect x="226" y="990" width="30" height="33" rx="1"/>
    <rect x="263" y="990" width="30" height="33" rx="1"/>
    <rect x="303" y="990" width="30" height="33" rx="1"/>
    <rect x="339" y="990" width="30" height="33" rx="1"/>
    <rect x="378" y="990" width="31" height="33" rx="1"/>
    <rect x="418" y="990" width="30" height="33" rx="1"/>
    <rect x="460" y="990" width="30" height="33" rx="1"/>
    <rect x="496" y="990" width="30" height="33" rx="1"/>
    <rect x="536" y="990" width="30" height="33" rx="1"/>
    <rect x="640" y="990" width="31" height="33" rx="1"/>
    <rect x="681" y="990" width="31" height="33" rx="1"/>
    <path d="M656 1023V1041M697 1023V1041"/>
    <!-- terminal 1 -->
    <path d="M203 1023V1050H212V1113H223V1128"/>
    <!-- terminal 2 -> A -->
    <path d="M241 1023V1032H150V1165"/>
    <!-- terminal 3 -->
    <path d="M278 1023V1031H293V1113"/>
    <!-- terminal 4 -->
    <path d="M317 1023V1113H330V1128"/>
    <!-- terminal 5 -> B -->
    <path d="M354 1023V1044H165V1182"/>
    <!-- terminal 6 -->
    <path d="M394 1023V1113"/>
    <!-- terminal 7 -->
    <path d="M433 1023V1113H445V1128"/>
    <!-- terminal 8 -> C -->
    <path d="M475 1023V1061H178V1199"/>
    <!-- terminal 9 -->
    <path d="M511 1023V1113"/>
    <!-- terminal 10 -> N -->
    <path d="M551 1023V1077H193V1221"/>
    <!-- switches -->
    <path d="M293 1113L303 1095H551V1125M394 1113L414 1095M511 1113L531 1095"/>
    
    <!-- ground -->
    <path d="M540 1125H563M544 1131H558M548 1137H554"/>
    <!-- CT1 primary -->
    <path d="M137 1165H214V1128H305V1163H576"/>
    <!-- coil1 -->
    <path d="M223 1128A17.5 17.5 0 0 0 258 1128A17.5 17.5 0 0 0 293 1128V1113"/>
    <!-- CT2 primary -->
    <path d="M137 1182H319V1128H405V1184H576"/>
    <path d="M330 1128A16 16 0 0 0 362 1128A16 16 0 0 0 394 1128V1113"/>
    <!-- CT3 primary -->
    <path d="M137 1199H433V1128H512V1199H576"/>
    <path d="M445 1128A13.75 13.75 0 0 0 472.5 1128A13.75 13.75 0 0 0 500 1128V1113H511"/>
    <!-- N -->
    <path d="M137 1221H576"/>
  </g>
  <g fill="#333">
    <circle cx="293" cy="1113" r="4.5"/><circle cx="303" cy="1095" r="4.5"/>
    <circle cx="394" cy="1113" r="4.5"/><circle cx="414" cy="1095" r="4.5"/>
    <circle cx="511" cy="1113" r="4.5"/><circle cx="531" cy="1095" r="4.5"/>
    <path d="M574 1157.5L584 1163L574 1168.5Z M574 1178.5L584 1184L574 1189.5Z M574 1193.5L584 1199L574 1204.5Z M574 1215.5L584 1221L574 1226.5Z"/>
  </g>
  <g font-size="21" fill="#333" text-anchor="middle">
    <text x="203" y="1014">1</text><text x="241" y="1014">2</text><text x="278" y="1014">3</text>
    <text x="318" y="1014">4</text><text x="354" y="1014">5</text><text x="393.5" y="1014">6</text>
    <text x="433" y="1014">7</text><text x="475" y="1014">8</text><text x="511" y="1014">9</text>
    <text x="551" y="1014">10</text><text x="655.5" y="1014">11</text><text x="696.5" y="1014">12</text>
  </g>
  <g font-size="20.5" fill="#333" text-anchor="middle">
    <text x="121" y="1170.5">A</text><text x="121" y="1188.5">B</text><text x="121" y="1207">C</text><text x="121" y="1226">N</text>
  </g>
  <g font-size="21" fill="#333" text-anchor="middle">
    <text x="603" y="1174">负</text><text x="603" y="1199">载</text><text x="603" y="1225">侧</text>
  </g>
  <g font-size="17" fill="#333" text-anchor="middle">
    <text x="656" y="1060">辅</text><text x="656" y="1078">助</text><text x="656" y="1096">电</text>
    <text x="656" y="1114">源</text><text x="656" y="1132">端</text><text x="656" y="1150">子</text>
    <text x="656" y="1175">+</text>
    <text x="697" y="1060">辅</text><text x="697" y="1078">助</text><text x="697" y="1096">电</text>
    <text x="697" y="1114">源</text><text x="697" y="1132">端</text><text x="697" y="1150">子</text>
    <text x="697" y="1175">−</text>
  </g>
</g>

<rect x="0" y="1394" width="790" height="9" fill="#eef4fd"/>
<rect x="0" y="1402.5" width="790" height="1.5" fill="#f2f9ff"/>
<rect x="0" y="1404" width="790" height="2" fill="#57708d"/>
</svg>
</body></html>
